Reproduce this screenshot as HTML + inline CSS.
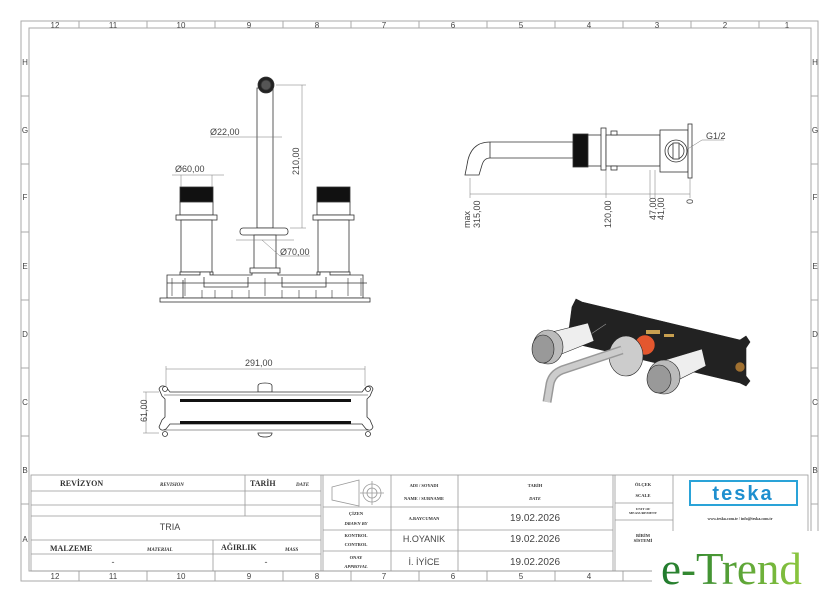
<!DOCTYPE html>
<html><head><meta charset="utf-8"><style>
html,body{margin:0;padding:0;background:#fff;}
svg{display:block;font-family:"Liberation Sans",sans-serif;}
.t{font-family:"Liberation Serif",serif;font-weight:bold;}
</style></head><body>
<svg width="840" height="603" viewBox="0 0 840 603" xmlns="http://www.w3.org/2000/svg">
<rect width="840" height="603" fill="#fff"/>
<!-- frame -->
<g fill="none" stroke="#aaa" stroke-width="1">
<rect x="21" y="21" width="797" height="560"/>
<rect x="29" y="28" width="782" height="543"/>
<path d="M79 21v7M147 21v7M215 21v7M283 21v7M351 21v7M419 21v7M487 21v7M555 21v7M623 21v7M691 21v7M759 21v7
M79 571v10M147 571v10M215 571v10M283 571v10M351 571v10M419 571v10M487 571v10M555 571v10M623 571v10M691 571v10M759 571v10
M21 96h8M21 164h8M21 232h8M21 300h8M21 368h8M21 436h8M21 504h8
M811 96h7M811 164h7M811 232h7M811 300h7M811 368h7M811 436h7M811 504h7"/>
</g>
<g font-size="8" fill="#444" text-anchor="middle">
<text x="55" y="28">12</text><text x="113" y="28">11</text><text x="181" y="28">10</text><text x="249" y="28">9</text><text x="317" y="28">8</text><text x="384" y="28">7</text><text x="453" y="28">6</text><text x="521" y="28">5</text><text x="589" y="28">4</text><text x="657" y="28">3</text><text x="725" y="28">2</text><text x="787" y="28">1</text>
<text x="55" y="579">12</text><text x="113" y="579">11</text><text x="181" y="579">10</text><text x="249" y="579">9</text><text x="317" y="579">8</text><text x="384" y="579">7</text><text x="453" y="579">6</text><text x="521" y="579">5</text><text x="589" y="579">4</text><text x="657" y="579">3</text>
<text x="25" y="65">H</text><text x="25" y="133">G</text><text x="25" y="200">F</text><text x="25" y="269">E</text><text x="25" y="337">D</text><text x="25" y="405">C</text><text x="25" y="473">B</text><text x="25" y="542">A</text>
<text x="815" y="65">H</text><text x="815" y="133">G</text><text x="815" y="200">F</text><text x="815" y="269">E</text><text x="815" y="337">D</text><text x="815" y="405">C</text><text x="815" y="473">B</text>
</g>

<!-- FRONT VIEW -->
<g stroke="#333" stroke-width="0.8" fill="#fff">
<rect x="257" y="88" width="16" height="140"/>
<circle cx="266" cy="85" r="8" fill="#222"/>
<circle cx="266" cy="85" r="5" fill="#555"/>
<rect x="240" y="228" width="48" height="7" rx="3"/>
<rect x="254" y="235" width="22" height="35"/>
<rect x="250" y="268" width="30" height="5"/>
<rect x="180" y="187" width="33" height="15" fill="#111"/>
<rect x="180" y="202" width="33" height="13"/>
<rect x="176" y="215" width="41" height="5"/>
<rect x="181" y="220" width="31" height="52"/>
<rect x="180" y="272" width="33" height="3"/>
<rect x="317" y="187" width="33" height="15" fill="#111"/>
<rect x="317" y="202" width="33" height="13"/>
<rect x="313" y="215" width="41" height="5"/>
<rect x="318" y="220" width="31" height="52"/>
<rect x="317" y="272" width="33" height="3"/>
<path d="M167 298V275h33v-3h10v3h42v-2h26v2h42v-3h10v3h33v23z"/>
<rect x="160" y="298" width="210" height="4"/>
<path d="M183 298v-15h184M204 277v10h44v-10M282 277v10h44v-10M167 283h16M183 280v18" fill="none"/>
<path d="M172 278v18M185 278v18M202 290v8M215 290v8M232 290v8M249 290v8M265 278v18M282 290v8M299 290v8M316 290v8M332 290v8M348 278v18M361 278v18" fill="none" stroke-width="0.6"/>
</g>
<g stroke="#777" stroke-width="0.5" fill="none">
<path d="M302 85v143M276 85h30M290 228h16"/>
<path d="M210 137h72M172 175h52M181 175v12M212 175v12"/>
<path d="M236 240h58M262 240l18 16h30"/>
</g>
<g font-size="9" fill="#444">
<text x="210" y="135">Ø22,00</text>
<text x="175" y="172">Ø60,00</text>
<text x="280" y="255">Ø70,00</text>
<text transform="translate(299 175) rotate(-90)">210,00</text>
</g>

<!-- SIDE VIEW -->
<g stroke="#333" stroke-width="0.8" fill="#fff">
<path d="M573 142H490q-20 0-23 23l-2 10h14l3-10q2-7 8-7h83z"/>
<path d="M490 142v16" fill="none"/>
<rect x="573" y="134" width="15" height="33" fill="#111"/>
<rect x="588" y="135" width="14" height="31"/>
<rect x="601" y="128" width="5" height="42"/>
<rect x="606" y="135" width="54" height="31"/>
<rect x="611" y="131" width="6" height="4"/><rect x="611" y="166" width="6" height="4"/>
<rect x="660" y="130" width="28" height="42"/>
<rect x="688" y="124" width="4" height="54"/>
<circle cx="676" cy="151" r="11"/>
<circle cx="676" cy="151" r="8"/>
<rect x="673" y="143" width="6" height="16"/>
</g>
<g stroke="#777" stroke-width="0.5" fill="none">
<path d="M470 194h220M470 178v20M606 170v28M650 170v28M655 170v28M690 178v20M686 150l16-10h22"/>
</g>
<g font-size="9" fill="#444">
<text x="706" y="139">G1/2</text>
<text transform="translate(470 228) rotate(-90)">max</text>
<text transform="translate(480 228) rotate(-90)">315,00</text>
<text transform="translate(611 228) rotate(-90)">120,00</text>
<text transform="translate(656 220) rotate(-90)">47,00</text>
<text transform="translate(664 220) rotate(-90)">41,00</text>
<text transform="translate(693 204) rotate(-90)">0</text>
</g>

<!-- TOP VIEW -->
<g stroke="#333" stroke-width="0.8" fill="#fff">
<path d="M258 392v-6q0-3 7-3t7 3v6zM258 433q0 4 7 4t7-4z"/>
<path d="M170 392h192l4-5q5-3 7 2l-3 7-3 3v18l3 3 3 7q-2 5-7 2l-4-5H170l-4 5q-5 3-7-2l3-7 3-3v-18l-3-3-3-7q2-5 7-2z"/>
<circle cx="165" cy="389" r="2.5"/><circle cx="368" cy="389" r="2.5"/><circle cx="165" cy="434" r="2.5"/><circle cx="368" cy="434" r="2.5"/>
<path d="M164 395h204M164 430h204" fill="none" stroke-width="0.5"/>
</g>
<rect x="180" y="399" width="171" height="3" fill="#111"/>
<rect x="180" y="421" width="171" height="3" fill="#111"/>
<g stroke="#777" stroke-width="0.5" fill="none">
<path d="M166 369h199M166 366v20M365 366v20M146 392v41M143 392h16M143 433h16"/>
</g>
<g font-size="9" fill="#444">
<text x="245" y="366">291,00</text>
<text transform="translate(147 422) rotate(-90)">61,00</text>
</g>

<!-- 3D -->
<g stroke="#222" stroke-width="0.6">
<path d="M572 307l4-8 6 3 158 38 6-4 4 6-4 6v28l4 5-4 5-6-3-168-40-4-6z" fill="#222"/>
<path d="M582 340l24-16" stroke="#999" fill="none"/>
<rect x="646" y="330" width="14" height="4" fill="#c8a050" stroke="none"/>
<rect x="664" y="334" width="10" height="3" fill="#c8a050" stroke="none"/>
<circle cx="740" cy="367" r="5" fill="#a07030"/>
<path d="M548 333l40-10 6 18-40 16z" fill="#eee"/>
<ellipse cx="548" cy="347" rx="15" ry="17" fill="#bbb"/>
<ellipse cx="543" cy="349" rx="11" ry="14" fill="#999"/>
<path d="M662 361l40-12 4 17-40 20z" fill="#eee"/>
<ellipse cx="664" cy="377" rx="16" ry="17" fill="#bbb"/>
<ellipse cx="659" cy="379" rx="12" ry="14" fill="#999"/>
<circle cx="645" cy="345" r="10" fill="#e4572e"/>
<ellipse cx="626" cy="356" rx="17" ry="20" fill="#ccc"/>
<path d="M622 350L562 370q-10 4-12 14l-3 18" fill="none" stroke="#999" stroke-width="9" stroke-linecap="butt"/>
<path d="M622 350L562 370q-10 4-12 14l-3 18" fill="none" stroke="#ccc" stroke-width="6"/>
</g>

<!-- TITLE BLOCK -->
<g fill="none" stroke="#999" stroke-width="0.8">
<rect x="31" y="475" width="777" height="96"/>
<path d="M321 475v96M323 475v96"/>
<path d="M31 491h290M31 505h290M31 516h290M31 540h290M31 554h290M245 475v41M213 540v31"/>
<path d="M323 507h290M323 530h290M323 551h290M391 475v96M458 475v96M613 475v96M615 475v96M673 475v96"/>
<path d="M615 503h58M615 520h58"/>
<path d="M332 487l27-7v26l-27-6z"/>
<circle cx="372" cy="493" r="9"/><circle cx="372" cy="493" r="5"/><path d="M360 493h24M372 481v24"/>
</g>
<g class="t" fill="#333">
<text x="60" y="486" font-size="8">REVİZYON</text>
<text x="160" y="486" font-size="5" font-style="italic">REVISION</text>
<text x="250" y="486" font-size="8">TARİH</text>
<text x="296" y="486" font-size="5" font-style="italic">DATE</text>
<text x="50" y="551" font-size="8">MALZEME</text>
<text x="147" y="551" font-size="5" font-style="italic">MATERIAL</text>
<text x="221" y="550" font-size="8">AĞIRLIK</text>
<text x="285" y="551" font-size="5" font-style="italic">MASS</text>
<g font-size="4.5" text-anchor="middle">
<text x="424" y="487">ADI / SOYADI</text><text x="424" y="500">NAME / SURNAME</text>
<text x="535" y="487">TARİH</text><text x="535" y="500" font-style="italic">DATE</text>
<text x="356" y="515">ÇİZEN</text><text x="356" y="525" font-style="italic">DRAWN BY</text>
<text x="424" y="520">A.BAYCUMAN</text>
<text x="356" y="537">KONTROL</text><text x="356" y="546">CONTROL</text>
<text x="356" y="559">ONAY</text><text x="356" y="568" font-style="italic">APPROVAL</text>
<text x="643" y="486">ÖLÇEK</text><text x="643" y="497">SCALE</text>
<text x="643" y="510" font-size="3.5">UNIT OF</text><text x="643" y="514" font-size="3.5">MEASUREMENT</text>
<text x="643" y="537">BİRİM</text><text x="643" y="542">SİSTEMİ</text>
<text x="740" y="520" font-size="4">www.teska.com.tr / info@teska.com.tr</text>
</g>
</g>
<g font-size="9" fill="#444" text-anchor="middle">
<text x="170" y="530">TRIA</text>
<text x="113" y="565">-</text><text x="266" y="565">-</text>
<text x="424" y="542">H.OYANIK</text>
<text x="424" y="565">İ. İYİCE</text>
<text x="535" y="521" font-size="10">19.02.2026</text>
<text x="535" y="542" font-size="10">19.02.2026</text>
<text x="535" y="565" font-size="10">19.02.2026</text>
</g>
<rect x="690" y="481" width="107" height="24" fill="#fff" stroke="#2aa3d8" stroke-width="2"/>
<text x="743" y="500" text-anchor="middle" font-size="20" font-weight="bold" fill="#1e8fcf" letter-spacing="2">teska</text>

<!-- e-Trend overlay -->
<rect x="652" y="531" width="188" height="72" fill="#fff"/>
<defs><linearGradient id="g" x1="0" x2="1"><stop offset="0" stop-color="#1f7a2e"/><stop offset="1" stop-color="#8cc63f"/></linearGradient></defs>
<text x="661" y="584" font-family="Liberation Serif,serif" font-size="45" fill="url(#g)">e-Trend</text>
</svg>
</body></html>
